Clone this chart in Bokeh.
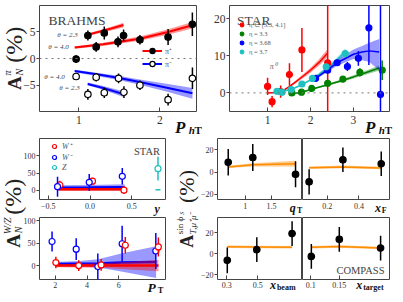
from math import pi
import numpy as np
from bokeh.plotting import figure
from bokeh.layouts import row, column
from bokeh.models import Range1d, FixedTicker, Span, Label, Legend, LegendItem, GridBox
from bokeh.embed import file_html
from bokeh.resources import INLINE

SERIF = "Liberation Serif"
FRAME = "#444444"
TXT = "#333333"
INK = "#111111"

# ---------------- BRAHMS (pi+/pi-) ----------------
brahms_pip_x = [0.967, 1.112, 1.214, 1.314, 1.483, 1.552, 1.753, 2.100, 2.399]
brahms_pip_y = [-0.1, 4.3, 2.16, 4.76, 3.12, 4.3, 3.5, 4.0, 6.4]
brahms_pip_err = [0.7, 0.95, 0.9, 1.2, 1.0, 1.1, 0.9, 1.5, 2.2]
brahms_pim_x = [0.967, 1.112, 1.214, 1.314, 1.490, 1.556, 1.753, 2.100, 2.400]
brahms_pim_y = [-3.36, -6.7, -3.5, -6.4, -3.7, -6.3, -5.0, -7.7, -3.7]
brahms_pim_err = [0.6, 1.0, 0.8, 1.0, 0.9, 1.1, 0.9, 1.1, 2.0]
pip_th23_x = [1.11, 1.25, 1.40, 1.55]
pip_th23_y = [4.45, 5.0, 5.6, 6.25]
pip_th23_hw = [0.2, 0.3, 0.35, 0.45]
pip_th40_x = [0.95, 1.30, 1.75, 2.10, 2.40]
pip_th40_y = [2.05, 2.65, 3.7, 4.95, 6.2]
pip_th40_hw = [0.25, 0.3, 0.4, 0.5, 0.6]
pim_th40_x = [0.95, 1.24, 1.50, 1.75, 2.10, 2.40]
pim_th40_y = [-2.35, -3.0, -3.65, -4.4, -5.5, -6.5]
pim_th40_hw = [0.25, 0.3, 0.4, 0.5, 0.75, 1.0]
pim_th23_x = [1.11, 1.30, 1.55]
pim_th23_y = [-4.75, -5.5, -6.65]
pim_th23_hw = [0.25, 0.35, 0.55]

# ---------------- STAR pi0 ----------------
star_red_x = [1.0, 1.105, 1.305, 1.51, 1.80, 2.40]
star_red_y = [1.75, -2.35, 0.35, 4.95, 11.55, 8.1]
star_red_err = [2.3, 1.5, 1.65, 3.0, 5.9, 40.0]
star_green_x = [1.565, 1.79, 2.03, 2.40, 2.755, 3.15, 3.67]
star_green_y = [0.0, 0.2, 1.2, 2.6, 3.7, 5.5, 6.1]
star_green_err = [0.4, 0.4, 0.4, 0.5, 0.6, 1.1, 2.6]
star_blue_x = [2.12, 2.40, 2.62, 2.86, 3.115, 3.36, 3.63]
star_blue_y = [3.9, 6.1, 8.1, 7.1, 9.3, 17.5, -0.4]
star_blue_err = [0.6, 0.6, 0.8, 1.2, 2.0, 10.0, 40.0]
star_cyan_x = [1.22, 1.335, 1.55, 1.80, 2.045, 2.365, 2.81]
star_cyan_y = [0.45, 0.2, 0.9, 2.4, 3.9, 7.0, 10.6]
star_cyan_err = [0.3, 0.3, 0.3, 0.4, 0.5, 0.7, 1.0]
red_th_x = [1.0, 1.3, 1.5, 1.75, 2.0, 2.2, 2.4]
red_th_y = [0.0, 0.2, 1.6, 3.8, 6.1, 8.2, 10.7]
red_th_hw = [0.05, 0.1, 0.25, 0.45, 0.65, 0.85, 1.1]
green_th_x = [1.55, 1.8, 2.0, 2.4, 2.7, 3.0, 3.3, 3.6]
green_th_y = [-0.3, 0.2, 0.9, 2.2, 3.2, 4.3, 5.5, 6.7]
green_th_hw = [0.1, 0.1, 0.15, 0.25, 0.35, 0.45, 0.55, 0.7]
blue_th_x = [2.12, 2.4, 2.62, 3.0, 3.2, 3.37, 3.6]
blue_th_y = [3.9, 6.2, 8.1, 10.4, 11.0, 11.3, 11.0]
blue_th_lo = [3.6, 5.7, 7.3, 9.1, 8.8, 8.3, 6.1]
blue_th_hi = [4.2, 6.7, 8.9, 11.7, 12.6, 13.5, 14.5]
cyan_th_x = [1.2, 1.4, 1.6, 1.8, 2.0, 2.2, 2.4, 2.6, 2.8]
cyan_th_y = [0.3, 0.5, 1.2, 2.2, 3.5, 5.0, 6.8, 8.7, 10.9]
cyan_th_hw = [0.1, 0.1, 0.15, 0.2, 0.3, 0.4, 0.5, 0.7, 0.9]
star_labels = ["η ∈ [3.3, 4.1]", "η = 3.3", "η = 3.68", "η = 3.7"]

# ---------------- STAR W/Z vs y ----------------
wy_wp_x = [-0.362, 0.029, 0.406]
wy_wp_y = [16, 27, 1]
wy_wp_err = [12, 10, 11]
wy_wm_x = [-0.39, -0.01, 0.386]
wy_wm_y = [11, 23.5, 41]
wy_wm_err = [29, 24, 24]
wy_z_x = [0.814]
wy_z_y = [63]
wy_z_err = [34]
wy_z_th = [2]
wy_wm_th_x = [-0.40, 0.0, 0.414]
wy_wm_th_y = [8.0, 8.5, 9.5]
wy_wm_th_hw = [7.0, 7.5, 8.5]
wy_wp_th_x = [-0.38, 0.0, 0.41]
wy_wp_th_y = [3.5, 3.5, 3.5]
wy_wp_th_hw = [4.0, 4.0, 4.0]

# ---------------- STAR W vs PT ----------------
pt_wm_x = [1.80, 3.32, 4.68, 6.21, 8.33]
pt_wm_y = [54, 37, -1.5, 49, 33]
pt_wm_err = [22, 24, 29, 40, 40]
pt_wp_x = [2.04, 3.48, 4.89, 6.41, 8.49]
pt_wp_y = [7.4, 0.8, 2.3, 45.7, 42]
pt_wp_err = [12.7, 12, 13, 18, 21]
pt_wm_th_x = [2.0, 3.5, 4.7, 6.15, 8.35]
pt_wm_th_y = [4.3, 5.0, 5.5, 7.6, 8.4]
pt_wm_th_hw = [4.3, 6.0, 9.0, 20.0, 35.0]
pt_wp_th_x = [2.0, 3.5, 4.9, 6.4, 8.5]
pt_wp_th_y = [0.7, 0.7, 0.7, 0.7, 0.7]
pt_wp_th_hw = [3.5, 4.0, 5.0, 8.0, 12.5]

# ---------------- COMPASS ----------------
qt_x = [0.674, 1.143, 1.96]
qt_y = [8.7, 13.0, -2.0]
qt_err = [11.9, 12.0, 11.7]
qt_th = [4.5, 6.4, 7.5]
qt_th_hw = [1.0, 1.5, 2.5]
xf_x = [0.0866, 0.299, 0.54]
xf_y = [-8.8, 11.0, 7.4]
xf_err = [11.3, 11.0, 11.0]
xf_th = [3.8, 4.6, 3.6]
xf_th_hw = [1.2, 1.2, 1.2]
xb_x = [0.304, 0.494, 0.721]
xb_y = [-6.2, 4.0, 19.4]
xb_err = [12.3, 11.8, 11.8]
xb_th = [6.8, 6.6, 6.3]
xb_th_hw = [1.2, 1.2, 1.2]
xt_x = [0.101, 0.150, 0.2224]
xt_y = [-2.5, 13.9, 5.5]
xt_err = [11.8, 11.8, 11.8]
xt_th = [6.2, 7.1, 5.5]
xt_th_hw = [1.2, 1.2, 1.2]

W, H = 395, 294


def panel(w, h, xr, yr, b, xticks, yticks, fs, xfmt=None, yfmt=None, show_y=True, xso=2, yso=1):
    bl, br, bt, bb = b
    p = figure(width=w, height=h, x_range=Range1d(*xr), y_range=Range1d(*yr),
               toolbar_location=None, output_backend="svg",
               y_axis_location="left" if show_y else None,
               min_border_left=bl, min_border_right=br,
               min_border_top=bt, min_border_bottom=bb)
    p.xgrid.visible = False
    p.ygrid.visible = False
    p.outline_line_color = FRAME
    p.outline_line_width = 1
    axes = list(p.xaxis) + (list(p.yaxis) if show_y else [])
    for ax in axes:
        ax.axis_line_color = None
        ax.minor_tick_line_color = None
        ax.major_tick_line_color = FRAME
        ax.major_label_text_font = SERIF
        ax.major_label_text_font_size = fs
        ax.major_label_text_color = TXT
    xa = p.xaxis[0]
    xa.ticker = FixedTicker(ticks=xticks)
    xa.major_tick_in = 4
    xa.major_tick_out = 0
    xa.major_label_standoff = xso
    if xfmt:
        xa.major_label_overrides = xfmt
    if show_y:
        ya = p.yaxis[0]
        ya.ticker = FixedTicker(ticks=yticks)
        ya.major_tick_in = 0
        ya.major_tick_out = 3
        ya.major_label_standoff = yso
        if yfmt:
            ya.major_label_overrides = yfmt
    return p


def txt(p, x, y, s, size, style="normal", color=TXT, align="left", baseline="alphabetic",
        angle=0.0, units="data"):
    p.add_layout(Label(x=x, y=y, x_units=units, y_units=units, text=s, text_font=SERIF,
                       text_font_size=f"{size}px", text_font_style=style, text_color=color,
                       text_align=align, text_baseline=baseline, angle=angle))


def band(p, x, y, hw, color, alpha=0.4, lw=2.0, lo=None, hi=None):
    x = np.asarray(x, float)
    y = np.asarray(y, float)
    if lo is None:
        lo = y - np.asarray(hw, float)
        hi = y + np.asarray(hw, float)
    p.varea(x=x, y1=lo, y2=hi, fill_color=color, fill_alpha=alpha)
    return p.line(x, y, line_color=color, line_width=lw)


def errpts(p, x, y, e, color, fill, size, lw=1.5, edge=None):
    x = np.asarray(x, float)
    y = np.asarray(y, float)
    e = np.asarray(e, float)
    p.segment(x0=x, y0=y - e, x1=x, y1=y + e, line_color=color, line_width=lw)
    return p.scatter(x, y, size=size, fill_color=fill, line_color=edge or color, line_width=1.2)


def legend(p, items, loc, fs, gw, gh, style="normal", color="#555555"):
    lg = Legend(items=[LegendItem(label=l, renderers=r) for l, r in items], location=loc,
                padding=0, margin=0, spacing=0, border_line_color=None,
                background_fill_alpha=0, glyph_width=gw, glyph_height=gh,
                label_text_font=SERIF, label_text_font_size=fs, label_text_color=color,
                label_text_font_style=style, label_standoff=3, label_height=gh)
    p.add_layout(lg)


# ================= Row 1 =================
P1 = panel(209, 132, (0.516, 2.45), (-9.9, 9.9), (39, 13, 5, 21), [1, 2], [-5, 0, 5], "11.5px",
           yfmt={-5: "−5"}, xso=4)
P1.add_layout(Span(location=0, dimension="width", line_color="#777777", line_dash="dotted", line_width=1))
band(P1, pip_th23_x, pip_th23_y, pip_th23_hw, "red")
r_red = band(P1, pip_th40_x, pip_th40_y, pip_th40_hw, "red")
r_blue = band(P1, pim_th40_x, pim_th40_y, pim_th40_hw, "blue")
band(P1, pim_th23_x, pim_th23_y, pim_th23_hw, "blue")
r_pip = errpts(P1, brahms_pip_x, brahms_pip_y, brahms_pip_err, "black", "black", 6.5)
r_pim = errpts(P1, brahms_pim_x, brahms_pim_y, brahms_pim_err, "black", "white", 6.5)
legend(P1, [("π⁺", [r_red, r_pip]), ("π⁻", [r_blue, r_pim])], (103, 41), "8px", 20, 13)
txt(P1, 0.86, 4.33, "θ = 2.3", 7, "italic", "#444444", "center", "middle")
txt(P1, 0.75, 2.17, "θ = 4.0", 7, "italic", "#444444", "center", "middle")
txt(P1, 0.70, -3.54, "θ = 4.0", 7, "italic", "#444444", "center", "middle")
txt(P1, 0.885, -5.6, "θ = 2.3", 7, "italic", "#444444", "center", "middle")
txt(P1, 9, 91.5, "BRAHMS", 13.5, "normal", "#444444", units="screen")

P2 = panel(186, 132, (0.113, 3.84), (-5.0, 23.5), (20, 6, 5, 21), [1, 2, 3], [0, 10, 20], "11.5px", xso=4)
P2.add_layout(Span(location=0, dimension="width", line_color="#777777", line_dash="dotted", line_width=1))
band(P2, red_th_x, red_th_y, red_th_hw, "red", lw=1.5)
band(P2, green_th_x, green_th_y, green_th_hw, "green", lw=1.5)
band(P2, cyan_th_x, cyan_th_y, cyan_th_hw, "#20c0c0", lw=1.5)
band(P2, blue_th_x, blue_th_y, None, "blue", lw=1.5, lo=blue_th_lo, hi=blue_th_hi)
r_sr = errpts(P2, star_red_x, star_red_y, star_red_err, "red", "red", 6)
r_sg = errpts(P2, star_green_x, star_green_y, star_green_err, "green", "green", 6)
r_sb = errpts(P2, star_blue_x, star_blue_y, star_blue_err, "blue", "blue", 6)
r_sc = errpts(P2, star_cyan_x, star_cyan_y, star_cyan_err, "#20c0c0", "#20c0c0", 6)
legend(P2, list(zip(star_labels, [[r_sr], [r_sg], [r_sb], [r_sc]])), (8, 55), "6.5px", 9, 9)
txt(P2, 7.5, 91.5, "STAR", 13.5, "normal", "#444444", units="screen")
txt(P2, 1.13, 7.0, "π⁰", 8, "italic", "#666666", "center", "middle")

# ================= Row 2 =================
P3 = panel(169, 80, (-0.606, 0.904), (-26, 150), (39, 4, 6, 13), [-0.5, 0.0, 0.5], [0, 50, 100], "8px",
           xfmt={-0.5: "−0.5", 0.0: "0.0", 0.5: "0.5"}, xso=3)
band(P3, wy_wm_th_x, wy_wm_th_y, wy_wm_th_hw, "blue", lw=2.5)
band(P3, wy_wp_th_x, wy_wp_th_y, wy_wp_th_hw, "red", lw=2.5)
r_wp = errpts(P3, wy_wp_x, wy_wp_y, wy_wp_err, "red", "white", 6)
r_wm = errpts(P3, wy_wm_x, wy_wm_y, wy_wm_err, "blue", "white", 6)
r_z = errpts(P3, wy_z_x, wy_z_y, wy_z_err, "#20c0c0", "white", 6)
P3.scatter(wy_z_x, wy_z_th, marker="dash", size=5, line_color="#20c0c0", line_width=1.5)
legend(P3, [("W⁺", [r_wp]), ("W⁻", [r_wm]), ("Z", [r_z])], (10, 27), "8px", 10, 10, "italic")
txt(P3, 94.5, 48.5, "STAR", 10.5, "normal", "#444444", units="screen")

P4 = panel(169, 82, (1.01, 8.94), (-30, 107), (39, 4, 5, 15), [2, 4, 6], [0, 50, 100], "8px", xso=2)
band(P4, pt_wm_th_x, pt_wm_th_y, pt_wm_th_hw, "blue", lw=2.5)
band(P4, pt_wp_th_x, pt_wp_th_y, pt_wp_th_hw, "red", lw=2.5)
errpts(P4, pt_wm_x, pt_wm_y, pt_wm_err, "blue", "white", 6)
errpts(P4, pt_wp_x, pt_wp_y, pt_wp_err, "red", "white", 6)

P5 = panel(133, 80, (0.469, 2.093), (-24.6, 30), (48, 0, 6, 13), [1, 1.5], [-20, 0, 20], "8px",
           yfmt={-20: "−20"}, xso=3)
band(P5, qt_x, qt_th, qt_th_hw, "darkorange", alpha=0.45, lw=1.5)
errpts(P5, qt_x, qt_y, qt_err, "black", "black", 6.5)

P6 = panel(93, 80, (0.045, 0.592), (-24.6, 30), (0, 6, 6, 13), [0.2, 0.4], None, "8px",
           show_y=False, xso=3)
band(P6, xf_x, xf_th, xf_th_hw, "darkorange", alpha=0.45, lw=1.5)
errpts(P6, xf_x, xf_y, xf_err, "black", "black", 6.5)

P7 = panel(133, 82, (0.241, 0.788), (-24.6, 34.8), (48, 0, 5, 15), [0.3, 0.5], [-20, 0, 20], "8px",
           yfmt={-20: "−20"}, xso=2)
band(P7, xb_x, xb_th, xb_th_hw, "darkorange", alpha=0.45, lw=1.5)
errpts(P7, xb_x, xb_y, xb_err, "black", "black", 6.5)

P8 = panel(93, 82, (0.0855, 0.238), (-24.6, 34.8), (0, 6, 5, 15), [0.1, 0.15], None, "8px",
           show_y=False, xso=2)
band(P8, xt_x, xt_th, xt_th_hw, "darkorange", alpha=0.45, lw=1.5)
errpts(P8, xt_x, xt_y, xt_err, "black", "black", 6.5)
txt(P8, 82, 9.5, "COMPASS", 10.5, "normal", "#444444", align="right", units="screen")

main = column(
    row(P1, P2, spacing=0),
    row(column(P3, P4, spacing=0),
        column(row(P5, P6, spacing=0), row(P7, P8, spacing=0), spacing=0), spacing=0),
    spacing=0)

# ---- transparent overlay carrying the axis titles (reference-pixel coordinates) ----
O = figure(width=W, height=H, x_range=Range1d(0, 403), y_range=Range1d(302, 0),
           toolbar_location=None, output_backend="svg",
           x_axis_location=None, y_axis_location=None, min_border=0)
O.outline_line_color = None
O.background_fill_color = None
O.border_fill_color = None
O.xgrid.visible = False
O.ygrid.visible = False
R = pi / 2
DARK = "#222222"
# y titles (rotated, read bottom to top)
txt(O, 14, 92, "A", 19, "bold", DARK, baseline="middle", angle=R)
txt(O, 19.5, 77, "N", 10, "italic", DARK, baseline="middle", angle=R)
txt(O, 7.5, 77, "π", 10, "italic", DARK, baseline="middle", angle=R)
txt(O, 14, 64, "(%)", 24, "normal", DARK, baseline="middle", angle=R)

txt(O, 13, 254, "A", 19, "bold", DARK, baseline="middle", angle=R)
txt(O, 18.5, 239, "N", 10, "italic", DARK, baseline="middle", angle=R)
txt(O, 7, 240, "W/Z", 10, "italic", DARK, baseline="middle", angle=R)
txt(O, 13, 220, "(%)", 24, "normal", DARK, baseline="middle", angle=R)

txt(O, 190, 254, "A", 18, "bold", DARK, baseline="middle", angle=R)
txt(O, 196.5, 240, "T,μ⁺μ⁻", 9, "italic", DARK, baseline="middle", angle=R)
txt(O, 183, 240, "sin ϕ", 9, "normal", DARK, baseline="middle", angle=R)
txt(O, 185, 220, "S", 6, "italic", DARK, baseline="middle", angle=R)
txt(O, 190, 208, "(%)", 22, "normal", DARK, baseline="middle", angle=R)
# x titles
for x0 in (178, 372):
    txt(O, x0, 130, "P", 17, "bold italic", INK)
    txt(O, x0 + 14, 133, "h", 11, "bold italic", INK)
    txt(O, x0 + 20, 133, "T", 11, "bold", INK)
txt(O, 157, 214, "y", 12, "bold italic", INK)
txt(O, 150, 295, "P", 13.5, "bold italic", INK)
txt(O, 160.5, 297, "T", 8.5, "bold", INK)
txt(O, 295, 213.5, "q", 12, "bold italic", INK)
txt(O, 302.5, 216, "T", 8, "bold", INK)
txt(O, 382, 213.5, "x", 12, "bold italic", INK)
txt(O, 389, 216, "F", 8, "bold", INK)
txt(O, 275, 292, "x", 12, "bold italic", INK)
txt(O, 282, 295, "beam", 8, "bold", INK)
txt(O, 363, 292, "x", 12, "bold italic", INK)
txt(O, 370, 295, "target", 8, "bold", INK)

layout = GridBox(children=[(main, 0, 0), (O, 0, 0)])

open("out.html", "w").write(file_html(layout, INLINE))
